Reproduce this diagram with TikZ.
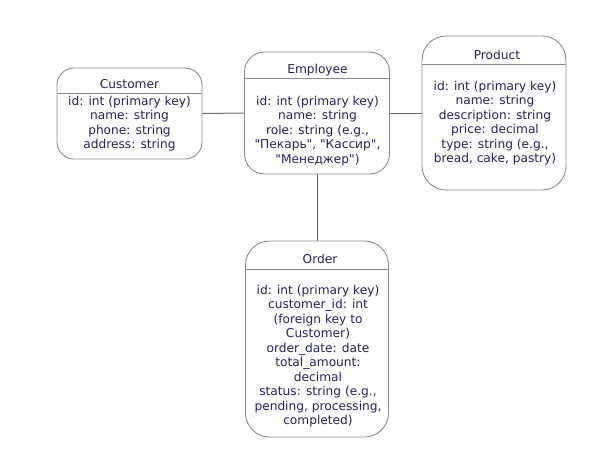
\documentclass[tikz,border=0pt]{standalone}
\usepackage{fontspec}
\setmainfont{DejaVu Sans}
\definecolor{txtcol}{RGB}{38,36,84}
\definecolor{boxcol}{RGB}{140,140,140}
\definecolor{linkcol}{RGB}{110,110,110}
\begin{document}
\begin{tikzpicture}[x=1pt, y=-1pt,
  entity/.style={rectangle, rounded corners=20pt, draw=boxcol, line width=0.9pt, inner sep=0pt},
  title/.style={font=\fontsize{12.2}{14.5}\selectfont, text=txtcol, inner sep=0pt},
  body/.style={font=\fontsize{12.2}{14.5}\selectfont, text=txtcol, align=center, inner sep=0pt},
  link/.style={draw=linkcol, line width=1pt}]
\useasboundingbox (0,0) rectangle (593,469);
% entity boxes
\node[entity, minimum width=145pt, minimum height=91pt, rounded corners=17pt] (cust) at (129.5,113.5) {};
\node[entity, minimum width=145pt, minimum height=122pt] (emp) at (317,113) {};
\node[entity, minimum width=144pt, minimum height=154pt, rounded corners=24pt] (prod) at (494,113) {};
\node[entity, minimum width=143pt, minimum height=196pt, rounded corners=24pt] (ord) at (317,339) {};
% header lines
\draw[draw=boxcol, line width=0.9pt] (cust.west |- 0,93) -- (cust.east |- 0,93);
\draw[draw=boxcol, line width=0.9pt] (emp.west |- 0,78) -- (emp.east |- 0,78);
\draw[draw=boxcol, line width=0.9pt] (prod.west |- 0,64) -- (prod.east |- 0,64);
\draw[draw=boxcol, line width=0.9pt] (ord.west |- 0,269) -- (ord.east |- 0,269);
% titles
\node[title] (custT) at (129.5,84) {Customer};
\node[title] (empT) at (317.5,70) {Employee};
\node[title] (prodT) at (497,55) {Product};
\node[title] (ordT) at (320,259) {Order};
% attributes
\node[body] (custB) at (129.5,123.5) {id: int (primary key)\\name: string\\phone: string\\address: string};
\node[body] (empB) at (317.5,131) {id: int (primary key)\\name: string\\role: string (e.g.,\\\textquotedbl Пекарь\textquotedbl, \textquotedbl Кассир\textquotedbl,\\\textquotedbl Менеджер\textquotedbl)};
\node[body] (prodB) at (495,123) {id: int (primary key)\\name: string\\description: string\\price: decimal\\type: string (e.g.,\\bread, cake, pastry)};
\node[body] (ordB) at (318,356) {id: int (primary key)\\customer\_id: int\\(foreign key to\\Customer)\\order\_date: date\\total\_amount:\\decimal\\status: string (e.g.,\\pending, processing,\\completed)};
% relations
\draw[link] (cust.east) -- (emp.west);
\draw[link] (emp.east) -- (prod.west);
\draw[link] (emp.south) -- (ord.north);
\end{tikzpicture}
\end{document}
